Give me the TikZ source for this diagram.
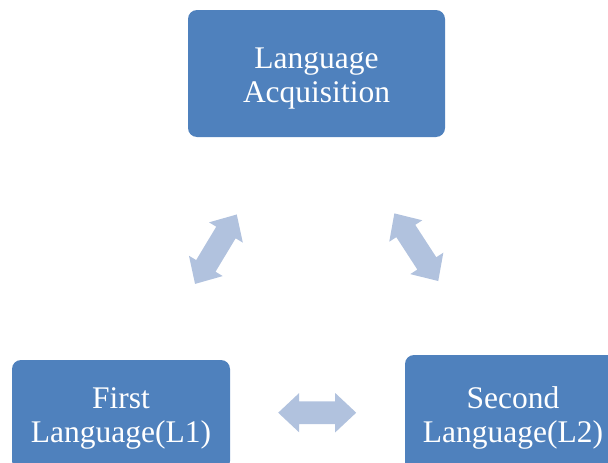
\documentclass[tikz,border=0pt]{standalone}
\usepackage{fontspec}
\setmainfont{Liberation Serif}
\definecolor{boxblue}{HTML}{4F81BD}
\definecolor{arrowblue}{RGB}{177,194,222}
\tikzset{
  box/.style={fill=boxblue, rounded corners=9pt, inner sep=0pt},
  boxtext/.style={text=white, align=center,
    font=\fontsize{31.5}{34}\selectfont, inner sep=0pt},
  pics/dblarrow/.style={code={
    \fill[arrowblue] (-#1,0) -- (-#1+21,19.7) -- (-#1+21,11.3) -- (#1-21,11.3)
      -- (#1-21,19.7) -- (#1,0) -- (#1-21,-19.7) -- (#1-21,-11.3)
      -- (-#1+21,-11.3) -- (-#1+21,-19.7) -- cycle;
  }}
}
\begin{document}
\begin{tikzpicture}[x=1pt,y=-1pt]
\useasboundingbox (0,0) rectangle (608,463);
\node[box, minimum width=257pt, minimum height=127pt] (top) at (316.5,73.5) {};
\node[boxtext] (toptext) at (316.5,79) {Language\\Acquisition};
\node[box, minimum width=218pt, minimum height=110pt] (l1) at (121,415) {};
\node[boxtext] (l1text) at (121,418) {First\\Language(L1)};
\node[box, minimum width=216pt, minimum height=116pt] (l2) at (513,413) {};
\node[boxtext] (l2text) at (513,418) {Second\\Language(L2)};
\pic (a1) at (215.9,249.2) [rotate=59] {dblarrow=40.5};
\pic (a2) at (416.3,247.2) [rotate=-57] {dblarrow=40.3};
\pic (a3) at (317.2,412.7) {dblarrow=39};
\end{tikzpicture}
\end{document}
